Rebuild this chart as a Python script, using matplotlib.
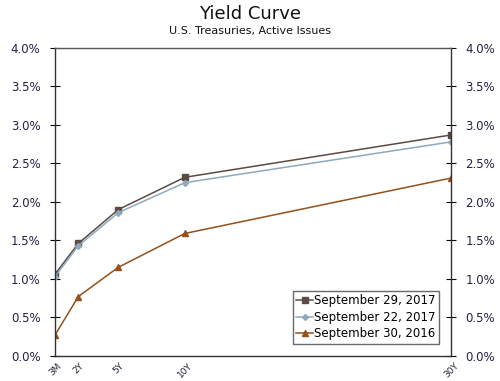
import matplotlib.pyplot as plt
from matplotlib.ticker import FuncFormatter

# maturities in years
maturities = [0.25, 2, 5, 10, 30]
tick_labels = ['3M', '2Y', '5Y', '10Y', '30Y']

sep29_2017 = [1.06, 1.46, 1.90, 2.32, 2.87]
sep22_2017 = [1.03, 1.43, 1.86, 2.25, 2.78]
sep30_2016 = [0.27, 0.77, 1.15, 1.59, 2.31]

fig = plt.figure(figsize=(5, 3.81), dpi=100)
ax = fig.add_axes([0.11, 0.066, 0.792, 0.808])

ax.plot(maturities, sep29_2017, color='#5b4b44', marker='s', markersize=4,
        linewidth=1.1, label='September 29, 2017')
ax.plot(maturities, sep22_2017, color='#8fa9ba', marker='D', markersize=3,
        linewidth=1.1, label='September 22, 2017')
ax.plot(maturities, sep30_2016, color='#96501a', marker='^', markersize=4.2,
        linewidth=1.1, label='September 30, 2016')

ax.set_xlim(0.25, 30)
ax.set_ylim(0, 4.0)
ax.set_xticks(maturities)
ax.set_xticklabels(tick_labels, rotation=45, fontsize=6.5, color='#222233')
ax.tick_params(axis='x', length=0, pad=4)
ax.set_yticks([i * 0.5 for i in range(9)])
ax.yaxis.set_major_formatter(FuncFormatter(lambda v, p: '%.1f%%' % v))
ax.tick_params(axis='y', direction='inout', length=7, labelsize=8.5,
               labelcolor='#222244', right=True, labelright=True, pad=7)
for s in ax.spines.values():
    s.set_color('#333333')
    s.set_linewidth(1)
ax.spines['top'].set_color('#555555')

leg = ax.legend(loc='lower right', fontsize=8.5, frameon=True, fancybox=False,
                edgecolor='#444444', handlelength=1.4, handletextpad=0.1,
                borderpad=0.3, labelspacing=0.3, bbox_to_anchor=(0.985, 0.02))
leg.get_frame().set_linewidth(1)

fig.text(0.5, 0.963, 'Yield Curve', ha='center', va='center', fontsize=13, color='#111111')
fig.text(0.5, 0.918, 'U.S. Treasuries, Active Issues', ha='center', va='center',
         fontsize=8, color='#111111')

fig.savefig('out.png', dpi=100)
